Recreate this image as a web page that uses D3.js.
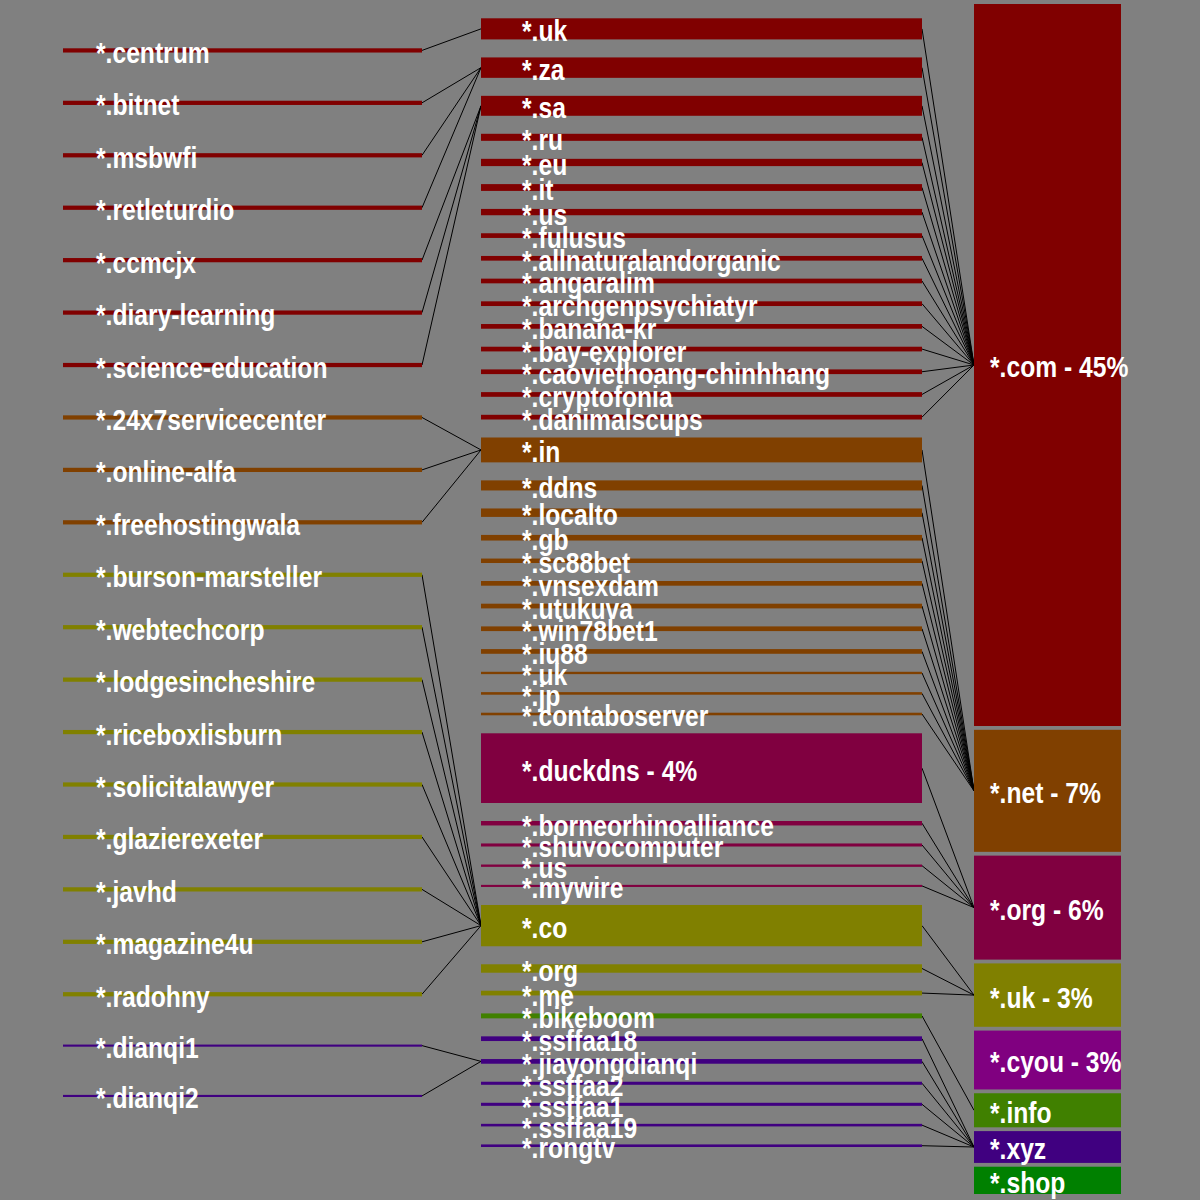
<!DOCTYPE html>
<html>
<head>
<meta charset="utf-8">
<script src="https://cdn.jsdelivr.net/npm/d3@7"></script>
<style>
  html, body { margin: 0; padding: 0; background: #808080; }
  svg { display: block; }
  .label {
    fill: #fff;
    font-family: 'Liberation Sans Narrow', 'Liberation Sans', Arial, sans-serif;
    font-weight: bold;
    font-size: 29px;
  }
  .link { stroke: #000; stroke-width: 1; fill: none; }
</style>
</head>
<body>
<div id="chart"></div>
<script>
// Top level domains (right column)
const tldNames  = ['*.com', '*.net', '*.org', '*.uk', '*.cyou', '*.info', '*.xyz', '*.shop'];
const tldCounts = [315, 49, 41, 23, 21, 10, 9, 7];
const tldColors = ['#800000', '#804000', '#800040', '#808000', '#800080', '#408000', '#400080', '#008000'];
const totalCount = 700;

// Second level domains (middle column), parent = index in tldNames
const domainNames = [
  '*.uk', '*.za', '*.sa', '*.ru', '*.eu', '*.it', '*.us', '*.fulusus', '*.allnaturalandorganic',
  '*.angaralim', '*.archgenpsychiatyr', '*.banana-kr', '*.bay-explorer', '*.caoviethoang-chinhhang',
  '*.cryptofonia', '*.danimalscups',
  '*.in', '*.ddns', '*.localto', '*.gb', '*.sc88bet', '*.vnsexdam', '*.utukuva', '*.win78bet1',
  '*.iu88', '*.uk', '*.jp', '*.contaboserver',
  '*.duckdns', '*.borneorhinoalliance', '*.shuvocomputer', '*.us', '*.mywire',
  '*.co', '*.org', '*.me',
  '*.bikeboom',
  '*.ssffaa18', '*.jiayongdianqi', '*.ssffaa2', '*.ssffaa1', '*.ssffaa19', '*.rongtv'
];
const domainTld = [
  0, 0, 0, 0, 0, 0, 0, 0, 0, 0, 0, 0, 0, 0, 0, 0,
  1, 1, 1, 1, 1, 1, 1, 1, 1, 1, 1, 1,
  2, 2, 2, 2, 2,
  3, 3, 3,
  5,
  6, 6, 6, 6, 6, 6
];
const domainCounts = [
  9, 8.7, 8.5, 3, 3.1, 2.9, 2.7, 2, 2, 2, 2, 2, 2, 2, 2, 2,
  10.6, 4.3, 3.6, 2.4, 1.9, 2, 2, 2, 2, 1, 1.1, 1.1,
  29.7, 1.9, 1.3, 1, 0.9,
  17.6, 3.6, 2,
  2.1,
  2, 2, 1.3, 1.3, 1.1, 1.1
];

// Third level (left column), parent = index in domainNames
const subNames = [
  '*.centrum', '*.bitnet', '*.msbwfi', '*.retleturdio', '*.ccmcjx', '*.diary-learning',
  '*.science-education', '*.24x7servicecenter', '*.online-alfa', '*.freehostingwala',
  '*.burson-marsteller', '*.webtechcorp', '*.lodgesincheshire', '*.riceboxlisburn',
  '*.solicitalawyer', '*.glazierexeter', '*.javhd', '*.magazine4u', '*.radohny',
  '*.dianqi1', '*.dianqi2'
];
const subDomain = [0, 1, 1, 1, 2, 2, 2, 16, 16, 16, 33, 33, 33, 33, 33, 33, 33, 33, 33, 38, 38];
const subCounts = [2, 2, 2, 2, 2, 2, 2, 2, 2, 2, 2, 2, 2, 2, 2, 2, 2, 2, 2, 1, 1];

// Column geometry
const cols = {
  left:   {x: 63,  w: 359, top: 48.3, bottom: 1097, gap: 48.2, textDx: 33},
  middle: {x: 481, w: 441, top: 18.3, bottom: 1147, gap: 18,   textDx: 41},
  right:  {x: 974, w: 147, top: 4,    bottom: 1194, gap: 3.8,  textDx: 16, minH: 11.5}
};
const pctMinHeight = 50;
const textSquash = 0.85; // labels are drawn condensed

// stack bars top to bottom, height from a linear scale (+ optional minimum)
const stack = (values, col) => {
  const minH = col.minH || 0;
  const free = col.bottom - col.top - col.gap * (values.length - 1) - minH * values.length;
  const h = d3.scaleLinear().domain([0, d3.sum(values)]).range([0, free]);
  let y = col.top;
  return values.map(v => {
    const node = {y: y, h: minH + h(v)};
    y += node.h + col.gap;
    return node;
  });
};

const rightNodes = stack(tldCounts, cols.right).map((d, i) => ({
  ...d, name: tldNames[i], color: tldColors[i], count: tldCounts[i], col: cols.right
}));
const midNodes = stack(domainCounts, cols.middle).map((d, i) => ({
  ...d, name: domainNames[i], color: tldColors[domainTld[i]], count: domainCounts[i],
  parent: rightNodes[domainTld[i]], col: cols.middle
}));
const leftNodes = stack(subCounts, cols.left).map((d, i) => ({
  ...d, name: subNames[i], color: midNodes[subDomain[i]].color, count: subCounts[i],
  parent: midNodes[subDomain[i]], col: cols.left
}));

const svg = d3.select('#chart').append('svg')
    .attr('width', 1200)
    .attr('height', 1200);

svg.append('rect')
    .attr('width', 1200)
    .attr('height', 1200)
    .attr('fill', '#808080');

// Links: right edge of child bar centre -> left edge of parent bar centre
const links = leftNodes.concat(midNodes);
svg.append('g')
  .selectAll('line')
  .data(links)
  .join('line')
    .attr('class', 'link')
    .attr('x1', d => d.col.x + d.col.w)
    .attr('y1', d => d.y + d.h / 2)
    .attr('x2', d => d.parent.col.x)
    .attr('y2', d => d.parent.y + d.parent.h / 2);

const allNodes = leftNodes.concat(midNodes, rightNodes);

svg.append('g')
  .selectAll('rect')
  .data(allNodes)
  .join('rect')
    .attr('x', d => d.col.x)
    .attr('y', d => d.y)
    .attr('width', d => d.col.w)
    .attr('height', d => d.h)
    .attr('fill', d => d.color);

svg.append('g')
  .selectAll('text')
  .data(allNodes)
  .join('text')
    .attr('class', 'label')
    .attr('transform', d => `translate(${d.col.x + d.col.textDx}, ${d.y + d.h / 2}) scale(${textSquash}, 1)`)
    .attr('dy', '0.43em')
    .text(d => d.h > pctMinHeight
      ? `${d.name} - ${Math.round(d.count / totalCount * 100)}%`
      : d.name);
</script>
</body>
</html>
